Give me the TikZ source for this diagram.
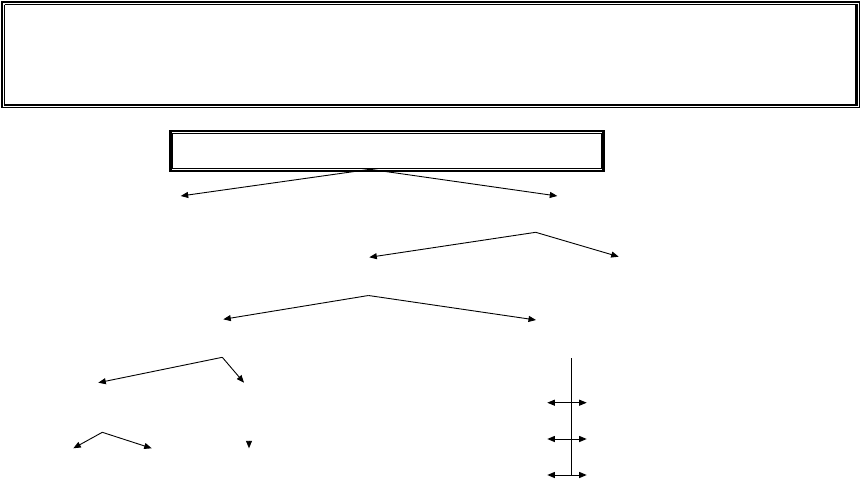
\documentclass[tikz,border=0pt]{standalone}
\usetikzlibrary{arrows.meta}
\begin{document}
\begin{tikzpicture}[x=1pt,y=-1pt,
  conn/.style={line width=0.9pt,-{Triangle[length=7.5pt,width=6pt]}},
  dconn/.style={line width=0.9pt,{Triangle[length=7.5pt,width=6pt]}-{Triangle[length=7.5pt,width=6pt]}},
  thickln/.style={line width=2.3pt},
  thinln/.style={line width=0.9pt}]
\useasboundingbox[fill=white] (0,0) rectangle (863,482);
% top banner box (thick-thin frame)
\node[minimum width=855pt,minimum height=101pt,inner sep=0pt] (banner) at (430.5,54.8) {};
\draw[thickln] (1,2.2) -- (860.3,2.2);
\draw[thickln] (2.2,1) -- (2.2,108.3);
\draw[thinln] (1.5,107.8) -- (860.2,107.8);
\draw[thinln] (859.7,1.3) -- (859.7,108.2);
\draw[thinln] (4.6,4.6) -- (857.5,4.6);
\draw[thinln] (4.6,4.6) -- (4.6,106.3);
\draw[thickln] (4.2,105.2) -- (857.7,105.2);
\draw[thickln] (856.6,4.2) -- (856.6,106.3);
% title box
\node[draw,line width=2.3pt,minimum width=433pt,minimum height=39.5pt,inner sep=0pt] (title) at (387,151) {};
\draw[thinln] (172.4,133.4) rectangle (601.5,168.6);
% coordinates
\coordinate (a0) at (370,169.3);
\coordinate (a1) at (180.7,196);
\coordinate (a2) at (557.3,196);
\coordinate (b0) at (535.7,232.3);
\coordinate (b1) at (369.3,257.3);
\coordinate (b2) at (618.7,256.7);
\coordinate (c0) at (368.5,295.5);
\coordinate (c1) at (223.3,319.3);
\coordinate (c2) at (536,320);
\coordinate (d0) at (222.3,357.3);
\coordinate (d1) at (98.3,382.7);
\coordinate (d2) at (244,382.7);
\coordinate (e0) at (102.3,432.3);
\coordinate (e1) at (73.3,448.3);
\coordinate (e2) at (151.7,448.3);
\coordinate (f0) at (249,440.5);
\coordinate (f1) at (249,448.3);
\coordinate (v0) at (571.3,358.3);
\coordinate (v1) at (571.3,475);
\coordinate (h1l) at (547.3,402.7);
\coordinate (h1r) at (586.7,402.7);
\coordinate (h2l) at (547.3,439);
\coordinate (h2r) at (586.7,439);
\coordinate (h3l) at (547.3,475);
\coordinate (h3r) at (586.7,475);
% connectors
\draw[conn] (a0) -- (a1);
\draw[conn] (a0) -- (a2);
\draw[conn] (b0) -- (b1);
\draw[conn] (b0) -- (b2);
\draw[conn] (c0) -- (c1);
\draw[conn] (c0) -- (c2);
\draw[conn] (d0) -- (d1);
\draw[conn] (d0) -- (d2);
\draw[conn] (e0) -- (e1);
\draw[conn] (e0) -- (e2);
\draw[conn] (f0) -- (f1);
\draw[line width=0.9pt] (v0) -- (v1);
\draw[dconn] (h1l) -- (h1r);
\draw[dconn] (h2l) -- (h2r);
\draw[dconn] (h3l) -- (h3r);
\end{tikzpicture}
\end{document}
